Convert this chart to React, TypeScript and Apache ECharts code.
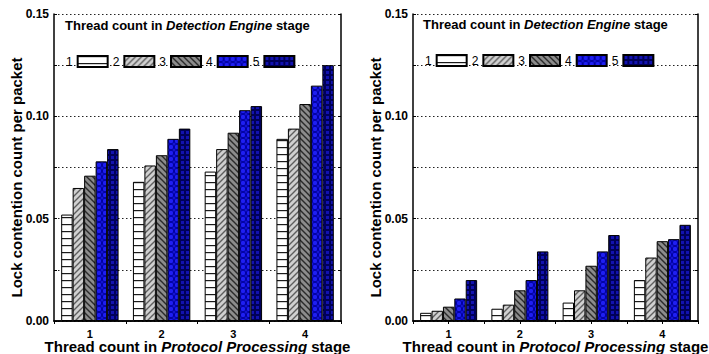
import React, { useEffect, useRef } from 'react';
import * as echarts from 'echarts';

// Protocol Processing thread counts (x categories)
const protocolThreads = ['1', '2', '3', '4'];
// Detection Engine thread counts (one series each)
const detectionThreads = ['1', '2', '3', '4', '5'];
const yTicks = [0, 0.05, 0.1, 0.15];

// Left panel: lock contention per packet, one row per Detection Engine thread count
const leftDE1 = [0.052, 0.068, 0.073, 0.089];
const leftDE2 = [0.065, 0.076, 0.084, 0.094];
const leftDE3 = [0.071, 0.081, 0.092, 0.106];
const leftDE4 = [0.078, 0.089, 0.103, 0.115];
const leftDE5 = [0.084, 0.094, 0.105, 0.125];

// Right panel
const rightDE1 = [0.004, 0.006, 0.009, 0.020];
const rightDE2 = [0.005, 0.008, 0.015, 0.031];
const rightDE3 = [0.007, 0.015, 0.027, 0.039];
const rightDE4 = [0.011, 0.020, 0.034, 0.040];
const rightDE5 = [0.020, 0.034, 0.042, 0.047];

const leftData = [leftDE1, leftDE2, leftDE3, leftDE4, leftDE5];
const rightData = [rightDE1, rightDE2, rightDE3, rightDE4, rightDE5];

const FONT = '"Liberation Sans", Arial, Helvetica, sans-serif';

function makeTile(size: number, draw: (ctx: CanvasRenderingContext2D, s: number) => void) {
  const c = document.createElement('canvas');
  c.width = size;
  c.height = size;
  const ctx = c.getContext('2d')!;
  draw(ctx, size);
  return { image: c, repeat: 'repeat', imageWidth: size, imageHeight: size } as any;
}

function buildPatterns() {
  // horizontal stripes
  const p1 = makeTile(7, (ctx, s) => {
    ctx.fillStyle = '#ffffff';
    ctx.fillRect(0, 0, s, s);
    ctx.fillStyle = '#1a1a1a';
    ctx.fillRect(0, 0, s, 1.2);
  });
  // forward diagonal hatch on light gray
  const p2 = makeTile(6, (ctx, s) => {
    ctx.fillStyle = '#d0d0d0';
    ctx.fillRect(0, 0, s, s);
    ctx.strokeStyle = '#5e5e5e';
    ctx.lineWidth = 1.4;
    ctx.beginPath();
    for (let k = -1; k <= 1; k++) {
      ctx.moveTo(k * s - 1, s + 1);
      ctx.lineTo(k * s + s + 1, -1);
    }
    ctx.stroke();
  });
  // back diagonal hatch on darker gray
  const p3 = makeTile(6, (ctx, s) => {
    ctx.fillStyle = '#8c8c8c';
    ctx.fillRect(0, 0, s, s);
    ctx.strokeStyle = '#2a2a2a';
    ctx.lineWidth = 1.4;
    ctx.beginPath();
    for (let k = -1; k <= 1; k++) {
      ctx.moveTo(k * s - 1, -1);
      ctx.lineTo(k * s + s + 1, s + 1);
    }
    ctx.stroke();
  });
  // blue with dotted diamonds
  const p4 = makeTile(6, (ctx, s) => {
    ctx.fillStyle = '#00009e';
    ctx.fillRect(0, 0, s, s);
    ctx.fillStyle = '#1f1ff2';
    ctx.beginPath();
    ctx.arc(s / 2, s / 2, 2.2, 0, Math.PI * 2);
    ctx.fill();
    ctx.fillStyle = '#1414d0';
    for (const [x, y] of [[0, 0], [s, 0], [0, s], [s, s]]) {
      ctx.beginPath();
      ctx.arc(x, y, 1.5, 0, Math.PI * 2);
      ctx.fill();
    }
  });
  // navy grid with blue cells
  const p5 = makeTile(5, (ctx, s) => {
    ctx.fillStyle = '#000058';
    ctx.fillRect(0, 0, s, s);
    ctx.fillStyle = '#1212b0';
    ctx.fillRect(1, 1, 3, 3);
  });
  return [p1, p2, p3, p4, p5];
}

export default function App() {
  const ref = useRef<HTMLDivElement>(null);

  useEffect(() => {
    if (!ref.current) return;
    const chart = echarts.init(ref.current, undefined, { renderer: 'svg' });
    const patterns = buildPatterns();

    const grids = [
      { left: 54, top: 14, width: 287, height: 307, outerBoundsMode: 'none', containLabel: false },
      { left: 413, top: 14, width: 285, height: 307, outerBoundsMode: 'none', containLabel: false },
    ];

    const xTitle = '{b|Thread count in }{i|Protocol Processing}{b| stage}';
    const titleRich = {
      b: { fontFamily: FONT, fontWeight: 'bold', fontSize: 15, color: '#000', lineHeight: 15 },
      i: { fontFamily: FONT, fontWeight: 'bold', fontStyle: 'italic', fontSize: 15, color: '#000', lineHeight: 15 },
    };
    const insideRich = {
      b: { fontFamily: FONT, fontWeight: 'bold', fontSize: 13, color: '#000' },
      i: { fontFamily: FONT, fontWeight: 'bold', fontStyle: 'italic', fontSize: 13, color: '#000' },
    };

    const xAxes: any[] = [];
    const yAxes: any[] = [];
    grids.forEach((_, gi) => {
      xAxes.push({
        type: 'category',
        gridIndex: gi,
        data: protocolThreads,
        position: 'bottom',
        axisLine: { show: true, lineStyle: { color: '#000', width: 1.5 } },
        axisTick: { show: true, interval: 0, length: 3, lineStyle: { color: '#000', width: 1 } },
        axisLabel: { fontFamily: FONT, fontWeight: 'bold', fontSize: 11, color: '#000', margin: 7 },
        name: xTitle,
        nameLocation: 'middle',
        nameGap: 18,
        nameMoveOverlap: false,
        nameTextStyle: { rich: titleRich },
      });
      xAxes.push({
        type: 'category',
        gridIndex: gi,
        data: gi === 1 ? ['', '', '', '', '', '', '', ''] : ['', '', '', ''],
        position: 'top',
        axisLine: { show: true, lineStyle: { color: '#000', width: 1.5 } },
        axisTick: { show: gi === 1, interval: 0, inside: true, length: 3, lineStyle: { color: '#000' } },
        axisLabel: { show: false },
      });
      yAxes.push({
        type: 'value',
        gridIndex: gi,
        min: 0,
        max: 0.15,
        interval: 0.025,
        position: 'left',
        axisLine: { show: true, lineStyle: { color: '#000', width: 1.5 } },
        axisTick: { show: true, inside: true, length: 3, lineStyle: { color: '#000' } },
        axisLabel: {
          fontFamily: FONT,
          fontWeight: 'bold',
          fontSize: 12,
          color: '#000',
          margin: 5,
          formatter: (v: number) => {
            const hit = yTicks.find((t) => Math.abs(t - v) < 1e-6);
            return hit === undefined ? '' : hit.toFixed(2);
          },
        },
        splitLine: { show: true, lineStyle: { color: '#222', width: 1, type: [1.5, 2.5] } },
        name: 'Lock contention count per packet',
        nameLocation: 'middle',
        nameGap: 30,
        nameMoveOverlap: false,
        nameTextStyle: {
          fontFamily: FONT,
          fontWeight: 'bold',
          fontSize: 15,
          color: '#000',
          padding: [0, 20, 0, 0],
        },
      });
      yAxes.push({
        type: 'value',
        gridIndex: gi,
        min: 0,
        max: 0.15,
        interval: 0.025,
        position: 'right',
        axisLine: { show: true, lineStyle: { color: '#000', width: 1.5 } },
        axisTick: { show: true, inside: true, length: 3, lineStyle: { color: '#000' } },
        axisLabel: { show: false },
        splitLine: { show: false },
      });
    });

    const series: any[] = [];
    [leftData, rightData].forEach((panel, gi) => {
      panel.forEach((values, si) => {
        series.push({
          type: 'bar',
          name: detectionThreads[si],
          xAxisIndex: gi * 2,
          yAxisIndex: gi * 2,
          data: values,
          barGap: '0%',
          barCategoryGap: '20%',
          itemStyle: { color: patterns[si], borderColor: '#000', borderWidth: 1 },
          emphasis: { disabled: true },
        });
      });
    });

    const legendBase = {
      data: detectionThreads,
      orient: 'horizontal',
      align: 'right',
      icon: 'rect',
      itemWidth: 30,
      itemHeight: 11,
      itemGap: 4,
      padding: 0,
      textStyle: { fontFamily: FONT, fontSize: 12, color: '#000' },
      selectedMode: false,
    };

    chart.setOption({
      animation: false,
      grid: grids,
      xAxis: xAxes,
      yAxis: yAxes,
      series,
      legend: [
        { ...legendBase, left: 66, top: 55 },
        { ...legendBase, left: 425, top: 54 },
      ],
      graphic: [
        {
          type: 'text',
          left: 65,
          top: 19,
          style: { text: '{b|Thread count in }{i|Detection Engine}{b| stage}', rich: insideRich },
        },
        {
          type: 'text',
          left: 423,
          top: 18,
          style: { text: '{b|Thread count in }{i|Detection Engine}{b| stage}', rich: insideRich },
        },
      ],
    });

    return () => chart.dispose();
  }, []);

  return (
    <div
      ref={ref}
      style={{ position: 'fixed', left: 0, top: 0, width: 709, height: 354, background: '#fff' }}
    />
  );
}
